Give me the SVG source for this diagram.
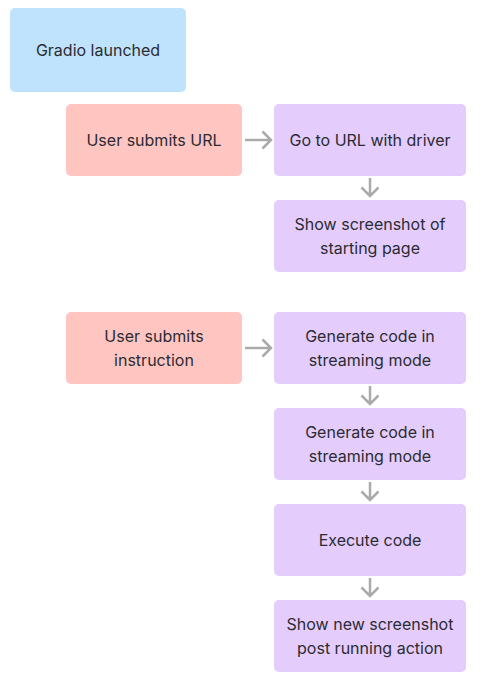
<svg xmlns="http://www.w3.org/2000/svg" width="494" height="690" viewBox="0 0 494 690">
<defs>
<style>
.t{font-family:Inter,"Liberation Sans",sans-serif;font-size:16px;fill:#2b2b33;text-anchor:middle;dominant-baseline:central}
.blue{fill:#bfe3fd}
.pink{fill:#ffc6c1}
.purple{fill:#e4cdfc}
.c{fill:none;stroke:#aaaaaa;stroke-width:2.5;stroke-linecap:butt;stroke-linejoin:miter}
</style>
</defs>
<rect width="494" height="690" fill="#ffffff"/>
<g id="gradio"><rect class="blue" x="10" y="8" width="176" height="84" rx="5"/><text class="t" x="98" y="50">Gradio launched</text></g>
<g id="submitUrl"><rect class="pink" x="66" y="104" width="176" height="72" rx="5"/><text class="t" x="154" y="140">User submits URL</text></g>
<g id="gotoUrl"><rect class="purple" x="274" y="104" width="192" height="72" rx="5"/><text class="t" x="370" y="140">Go to URL with driver</text></g>
<g id="showStart"><rect class="purple" x="274" y="200" width="192" height="72" rx="5"/><text class="t" x="370" y="224">Show screenshot of</text><text class="t" x="370" y="248">starting page</text></g>
<g id="submitInstr"><rect class="pink" x="66" y="312" width="176" height="72" rx="5"/><text class="t" x="154" y="336">User submits</text><text class="t" x="154" y="360">instruction</text></g>
<g id="gen1"><rect class="purple" x="274" y="312" width="192" height="72" rx="5"/><text class="t" x="370" y="336">Generate code in</text><text class="t" x="370" y="360">streaming mode</text></g>
<g id="gen2"><rect class="purple" x="274" y="408" width="192" height="72" rx="5"/><text class="t" x="370" y="432">Generate code in</text><text class="t" x="370" y="456">streaming mode</text></g>
<g id="exec"><rect class="purple" x="274" y="504" width="192" height="72" rx="5"/><text class="t" x="370" y="540">Execute code</text></g>
<g id="showNew"><rect class="purple" x="274" y="600" width="192" height="72" rx="5"/><text class="t" x="370" y="624">Show new screenshot</text><text class="t" x="370" y="648">post running action</text></g>
<g id="connectors">
<path class="c" d="M245 140H271M262.5 131.5L271 140L262.5 148.5"/>
<path class="c" d="M370 178V196M361.5 187.5L370 196L378.5 187.5"/>
<path class="c" d="M245 348H271M262.5 339.5L271 348L262.5 356.5"/>
<path class="c" d="M370 386V404M361.5 395.5L370 404L378.5 395.5"/>
<path class="c" d="M370 482V500M361.5 491.5L370 500L378.5 491.5"/>
<path class="c" d="M370 578V596M361.5 587.5L370 596L378.5 587.5"/>
</g>
</svg>
